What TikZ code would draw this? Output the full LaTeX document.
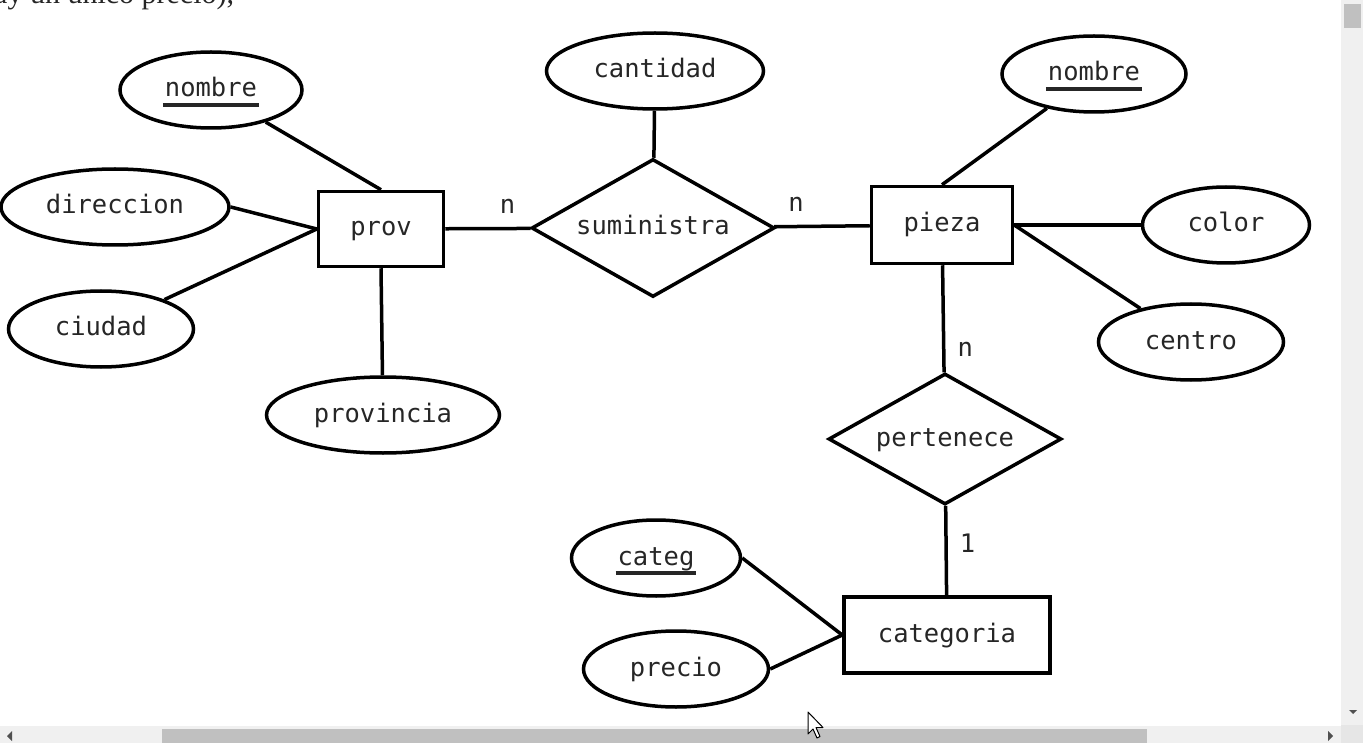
\documentclass[tikz,border=0pt]{standalone}
\usepackage{fontspec}
\setmainfont{DejaVu Sans Mono}
\newfontfamily\textoserif{Liberation Serif}
\usetikzlibrary{positioning,shapes.geometric}
\definecolor{barra}{HTML}{F0F0F0}
\definecolor{pulgar}{HTML}{C0C0C0}
\definecolor{esquina}{HTML}{E6E6E6}
\definecolor{flecha}{HTML}{505050}
% atributo clave: subrayado grueso
\newcommand{\clave}[1]{\setbox0=\hbox{#1}\rlap{\kern-2pt\smash{\rule[-10pt]{\dimexpr\wd0+4pt\relax}{4pt}}}\box0}
\tikzset{
  entidad/.style={draw, rectangle, line width=3.5pt, inner sep=0pt},
  atributo/.style={draw, ellipse, line width=3.5pt, inner sep=0pt, minimum height=76pt},
  relacion/.style={draw, diamond, aspect=1.75, line width=3.5pt, inner sep=0pt},
  conector/.style={line width=3.5pt},
  card/.style={inner sep=0pt, text height=14pt, text depth=0pt}
}

\begin{document}
\begin{tikzpicture}[x=1pt, y=-1pt, font=\fontsize{25.5}{30}\selectfont,
    every node/.append style={text height=19pt, text depth=5pt, text=black!85}]
  \useasboundingbox (0,0) rectangle (1363,743);
  \begin{scope}
    \clip (0,0) rectangle (1363,743);
    \node[anchor=base west, inner sep=0pt, text height=, text depth=, font=\textoserif\fontsize{30}{36}\selectfont] (encabezado) at (-6,4) {ay un único precio),};

    % entidad prov
    \node[atributo, minimum width=182pt] (nombreprov) at (211,90) {\clave{nombre}};
    \node[atributo, minimum width=228pt] (direccion) at (115,207) {direccion};
    \node[atributo, minimum width=185pt] (ciudad) at (101,329) {ciudad};
    \node[atributo, minimum width=233pt] (provincia) at (383,415) {provincia};
    \node[entidad, minimum width=125pt, minimum height=75pt] (prov) at (381,229) {prov};

    % relacion suministra
    \node[relacion, minimum width=243pt, minimum height=138pt] (suministra) at (653,228) {suministra};
    \node[atributo, minimum width=217pt] (cantidad) at (655,71) {cantidad};

    % entidad pieza
    \node[entidad, minimum width=141pt, minimum height=77pt] (pieza) at (942,225) {pieza};
    \node[atributo, minimum width=184pt] (nombrepieza) at (1094,74) {\clave{nombre}};
    \node[atributo, minimum width=167pt] (color) at (1226,225) {color};
    \node[atributo, minimum width=185pt] (centro) at (1191,342) {centro};

    % relacion pertenece y categoria
    \node[relacion, minimum width=233pt, minimum height=131pt] (pertenece) at (945,439) {pertenece};
    \node[entidad, minimum width=206pt, minimum height=76pt] (categoria) at (947,635) {categoria};
    \node[atributo, minimum width=169pt] (categ) at (656,558) {\clave{categ}};
    \node[atributo, minimum width=185pt] (precio) at (676,669) {precio};

    \draw[conector] (nombreprov) -- (prov.north);
    \draw[conector] (direccion.east) -- (prov.west);
    \draw[conector] (ciudad) -- (prov.west);
    \draw[conector] (provincia) -- (prov.south);
    \draw[conector] (prov) -- node[card, above=13pt, pos=0.73] {n} (suministra);
    \draw[conector] (cantidad) -- (suministra);
    \draw[conector] (suministra) -- node[card, above=13pt, pos=0.23] {n} (pieza);
    \draw[conector] (nombrepieza) -- (pieza.north);
    \draw[conector] (color) -- (pieza.east);
    \draw[conector] (centro) -- (pieza.east);
    \draw[conector] (pieza) -- node[card, right=12pt, pos=0.79] {n} (pertenece);
    \draw[conector] (pertenece) -- node[card, right=12pt, pos=0.44] {1} (categoria);
    \draw[conector] (categ.east) -- (categoria.west);
    \draw[conector] (precio.east) -- (categoria.west);

    % barras de desplazamiento
    \fill[barra] (1341,0) rectangle (1363,725);
    \fill[pulgar] (1344,4) rectangle (1361,28);
    \fill[flecha] (1349,710) -- (1357,710) -- (1353,714) -- cycle;
    \fill[barra] (0,726) rectangle (1341,743);
    \fill[pulgar] (162,729) rectangle (1147,743);
    \fill[esquina] (1341,725) rectangle (1363,743);
    \fill[flecha] (7,736) -- (12,731) -- (12,741) -- cycle;
    \fill[flecha] (1333,736) -- (1328,731) -- (1328,741) -- cycle;

    % puntero
    \draw[fill=white, line width=1pt, line join=round] (808,712) -- ++(0,22) -- ++(5,-5) -- ++(4,9) -- ++(3,-1.5) -- ++(-4,-9) -- ++(7,0) -- cycle;
  \end{scope}
\end{tikzpicture}
\end{document}
